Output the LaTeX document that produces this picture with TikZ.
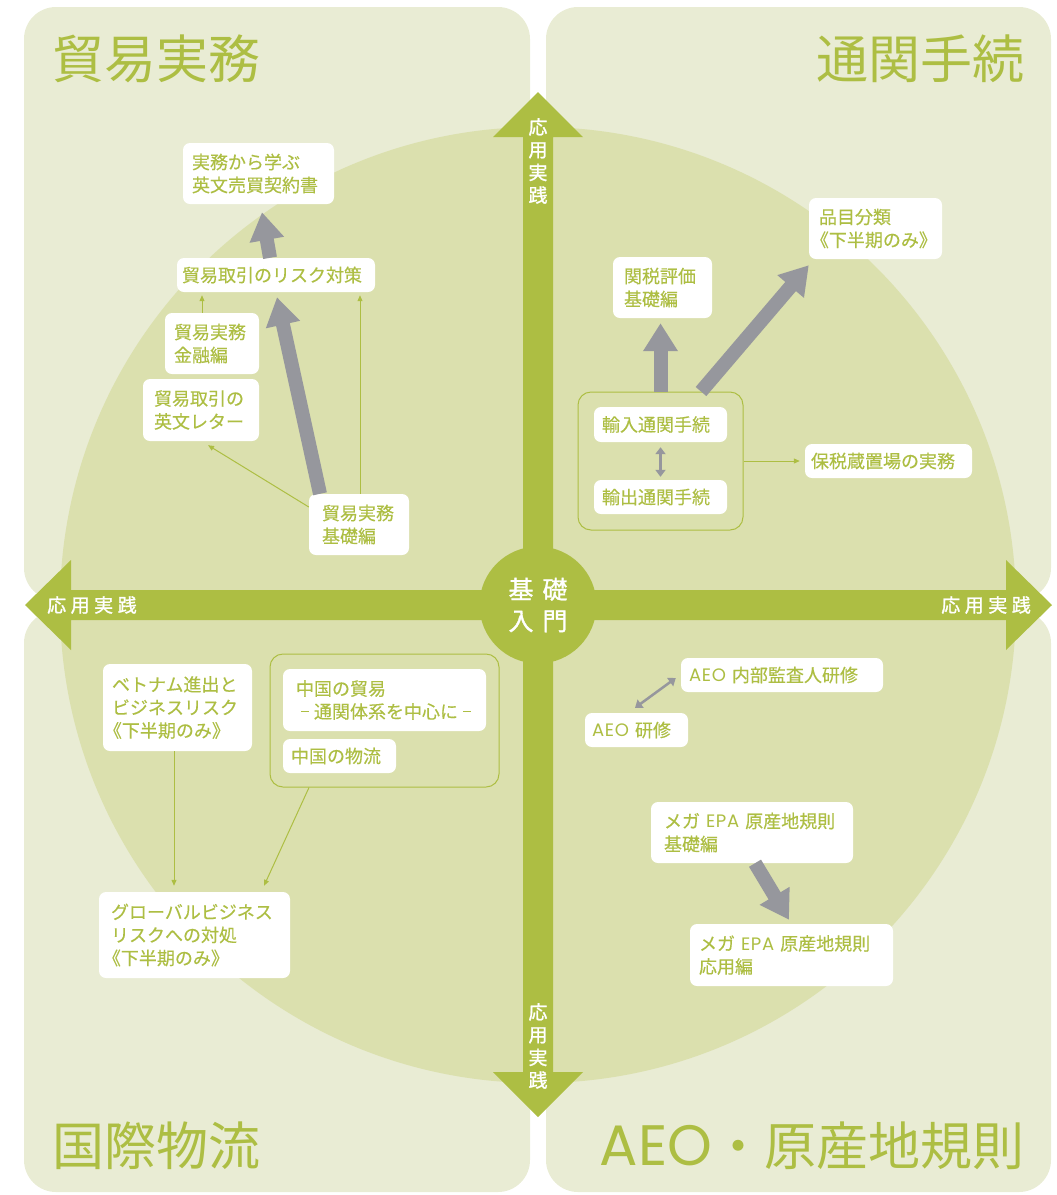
\documentclass[tikz,border=0pt]{standalone}
\usepackage{fontspec}
\setmainfont{Noto Sans CJK JP}
\newfontfamily\lat{Poppins}[LetterSpace=4]
\usetikzlibrary{arrows.meta}
\definecolor{panel}{RGB}{233,236,212}
\definecolor{disc}{RGB}{219,224,174}
\definecolor{grn}{RGB}{173,190,67}
\definecolor{gry}{RGB}{150,151,157}
\newcommand\obr{\hspace*{-0.45em}《}
\newcommand\sdash{\makebox[1em]{\rule[0.36em]{0.42em}{0.07em}}}
\newcommand\qbox[7]{%
  \pgfmathsetmacro\bxw{#4-#2-2*#6}%
  \pgfmathsetmacro\bxh{#5-#3}%
  \node[box, inner xsep=#6pt, text width=\bxw pt, minimum height=\bxh pt] (#1) at ({(#2+#4)/2},{(#3+#5)/2}) {#7};}
\begin{document}
\begin{tikzpicture}[x=1pt,y=-1pt,
  box/.style={fill=white, rounded corners=7pt, text=grn, align=left, inner ysep=0pt,
    font=\fontsize{18}{23}\selectfont\addfontfeature{FakeBold=0.3}},
  grp/.style={draw=grn, line width=1pt, rounded corners=13pt, inner sep=0pt},
  title/.style={text=grn, inner sep=0pt, font=\fontsize{52}{52}\selectfont},
  lab/.style={text=white, inner sep=0pt, font=\fontsize{19}{22.7}\selectfont\addfontfeature{FakeBold=1.2}},
  fat/.style={draw=gry, line width=14pt, -{Triangle[length=28pt,width=33pt]}},
  thin/.style={draw=grn, line width=1pt, -{Triangle[length=6pt,width=5pt]}},
  dbl/.style={draw=gry, line width=3pt, {Triangle[length=7pt,width=10pt]}-{Triangle[length=7pt,width=10pt]}}
]
\useasboundingbox (0,0) rectangle (1057,1195);
% panels
\fill[panel, rounded corners=32pt] (24,7) rectangle (530,600);
\fill[panel, rounded corners=32pt] (546,7) rectangle (1051,600);
\fill[panel, rounded corners=32pt] (24,611) rectangle (530,1192);
\fill[panel, rounded corners=32pt] (546,611) rectangle (1051,1192);
% disc
\fill[disc] (538,605) circle[radius=478pt];
% cross arrows
\fill[grn] (523,137) -- (493,137) -- (538,92) -- (583,137) -- (553,137) -- (553,1072) -- (583,1072) -- (538,1117) -- (493,1072) -- (523,1072) -- cycle;
\fill[grn] (71,590) -- (71,560) -- (25,605) -- (71,650) -- (71,620) -- (1006,620) -- (1006,650) -- (1052,605) -- (1006,560) -- (1006,590) -- cycle;
\node[circle, fill=grn, minimum size=117pt, inner sep=0pt, text=white, align=center,
  font=\fontsize{25}{31.5}\selectfont\addfontfeature{FakeBold=1.2}] (core) at (538,605) {基\hspace{9pt}礎\\入\hspace{9pt}門};
% arrow labels
\node[lab, align=center] (lt) at (538,161) {応\\用\\実\\践};
\node[lab, align=center] (lb) at (538,1046) {応\\用\\実\\践};
\node[lab, anchor=west] (ll) at (47,605) {応\hspace{4.5pt}用\hspace{4.5pt}実\hspace{4.5pt}践};
\node[lab, anchor=east] (lr) at (1031,605) {応\hspace{4.5pt}用\hspace{4.5pt}実\hspace{4.5pt}践};
% titles
\node[title, anchor=west] (t1) at (52,59) {貿易実務};
\node[title, anchor=east] (t2) at (1025,59) {通関手続};
\node[title, anchor=west] (t3) at (52,1146) {国際物流};
\node[title, anchor=east] (t4) at (1025,1146) {{\lat\fontsize{57}{57}\selectfont\addfontfeature{LetterSpace=1}AEO}・原産地規則};
% TL boxes
\qbox{contract}{183}{143}{334}{204}{9}{実務から学ぶ\\英文売買契約書}
\qbox{riskA}{177}{258}{375}{292}{5}{貿易取引のリスク対策}
\qbox{kinyu}{165}{313}{259}{374}{9}{貿易実務\\金融編}
\qbox{letter}{143}{379}{259}{441}{11}{貿易取引の\\英文レター}
\qbox{kisoA}{309}{494}{409}{555}{13}{貿易実務\\基礎編}
% TR boxes
\qbox{hinmoku}{809}{198}{942}{259}{10}{品目分類\\\obr 下半期のみ》}
\qbox{kanzei}{613}{257}{712}{318}{11}{関税評価\\基礎編}
\node[grp, minimum width=165pt, minimum height=138pt] (grpT) at (660.5,461) {};
\qbox{yunyu}{594}{407}{727}{442}{8}{輸入通関手続}
\qbox{yushutsu}{594}{480}{727}{514}{8}{輸出通関手続}
\qbox{hozei}{805}{444}{972}{478}{6}{保税蔵置場の実務}
% BL boxes
\qbox{viet}{103}{664}{252}{751}{9}{ベトナム進出と\\ビジネスリスク\\\obr 下半期のみ》}
\node[grp, minimum width=229pt, minimum height=133pt] (grpC) at (384.5,720.5) {};
\qbox{chinaT}{283}{669}{486}{731}{13}{中国の貿易\\\sdash 通関体系を中心に\sdash}
\qbox{chinaL}{283}{739}{396}{773}{8}{中国の物流}
\qbox{global}{99}{892}{290}{978}{12}{グローバルビジネス\\リスクへの対処\\\obr 下半期のみ》}
% BR boxes
\qbox{naibu}{681}{658}{883}{692}{8}{{\lat AEO}~内部監査人研修}
\qbox{aeo}{585}{713}{688}{747}{7}{{\lat AEO}~研修}
\qbox{mega1}{651}{802}{853}{863}{13}{メガ~{\lat EPA}~原産地規則\\基礎編}
\qbox{mega2}{690}{924}{893}{986}{9}{メガ~{\lat EPA}~原産地規則\\応用編}
% fat arrows
\draw[fat] ([xshift=-39pt]kisoA.north) -- ([xshift=1pt,yshift=-5pt]riskA.south);
\draw[fat] ([xshift=-6pt]riskA.north) -- ([xshift=3.5pt,yshift=-8pt]contract.south);
\draw[fat] (grpT.north) -- ([xshift=-2pt,yshift=-5pt]kanzei.south);
\draw[fat] ([xshift=40.5pt]grpT.north) -- ([yshift=-6pt]hinmoku.south west);
\draw[fat] ([xshift=3pt]mega1.south) -- ([xshift=-2.5pt,yshift=4pt]mega2.north);
% thin arrows
\draw[thin, shorten >=3pt] ([xshift=-10pt]kinyu.north) -- ([xshift=-10pt]kinyu.north |- riskA.south);
\draw[thin, shorten >=3pt] ([xshift=1pt]kisoA.north) -- ([xshift=1pt]kisoA.north |- riskA.south);
\draw[thin] ([yshift=17.5pt]kisoA.west) -- ([xshift=7pt,yshift=-4pt]letter.south);
\draw[thin, shorten >=5pt] (grpT.east) -- (hozei.west);
\draw[thin, shorten >=6pt] ([xshift=-3.5pt]viet.south) -- ([xshift=-3.5pt]viet.south |- global.north);
\draw[thin] ([xshift=-75.5pt]grpC.south) -- ([xshift=69.5pt,yshift=6pt]global.north);
% double arrows
\draw[dbl, shorten <=5pt, shorten >=3pt] (yunyu.south) -- (yushutsu.north);
\draw[dbl, line width=2.5pt] ([xshift=-1.5pt,yshift=5pt]aeo.north) -- ([xshift=-5pt,yshift=-3pt]naibu.west);
\end{tikzpicture}
\end{document}
